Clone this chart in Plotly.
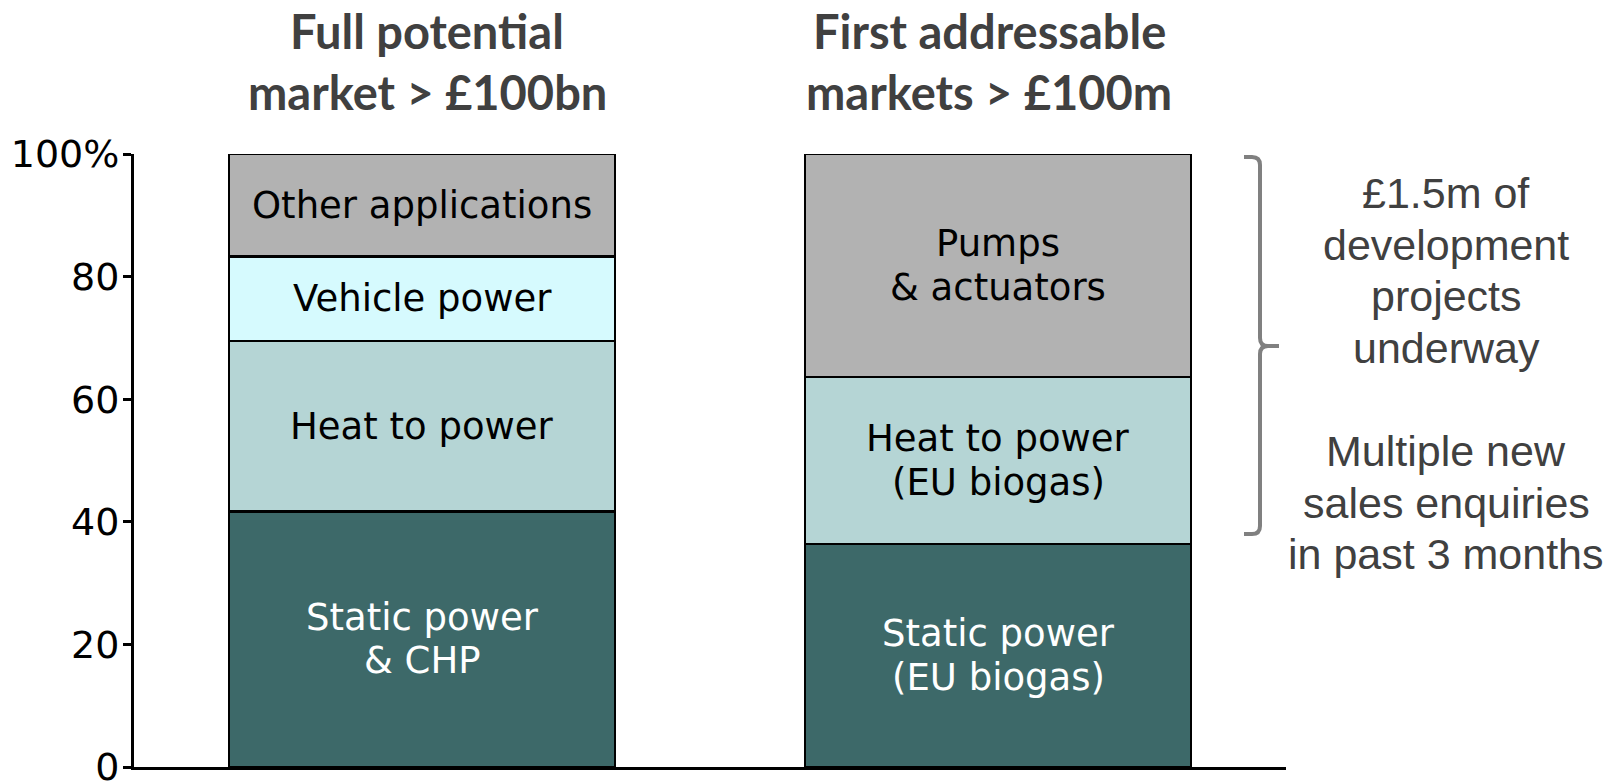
import plotly.graph_objects as go

# ---- data ----
categories = ["Full potential market", "First addressable markets"]
titles = ["Full potential<br>market > £100bn", "First addressable<br>markets > £100m"]

series_names = ["Static power", "Heat to power", "Vehicle power", "Other / Pumps"]
static_power = [41.7, 36.4]
heat_to_power = [27.8, 27.2]
vehicle_power = [13.8, 0.0]
other_apps = [16.7, 36.4]

static_labels = ["Static power<br>& CHP", "Static power<br>(EU biogas)"]
heat_labels = ["Heat to power", "Heat to power<br>(EU biogas)"]
vehicle_labels = ["Vehicle power", ""]
other_labels = ["Other applications", "Pumps<br>& actuators"]

tick_values = [0, 20, 40, 60, 80, 100]
tick_labels = ["0", "20", "40", "60", "80", "100%"]

side_lines = ["£1.5m of", "development", "projects", "underway", "",
              "Multiple new", "sales enquiries", "in past 3 months"]

# ---- styling ----
colors = ["#3D6969", "#B5D5D5", "#D6FAFE", "#B2B2B2"]
text_colors = ["white", "black", "black", "black"]
W, H = 1620, 784
ML, MR, MT, MB = 134, 334, 154, 17
PH = H - MT - MB
PW = W - ML - MR
BAR_LINE_GAP = 43.6

series = [static_power, heat_to_power, vehicle_power, other_apps]
labels = [static_labels, heat_labels, vehicle_labels, other_labels]

fig = go.Figure()
for name, vals, col in zip(series_names, series, colors):
    fig.add_trace(go.Bar(
        x=list(range(len(categories))), y=vals, name=name,
        marker=dict(color=col, line=dict(color="black", width=2.5)),
        width=0.67, hoverinfo="skip", showlegend=False,
    ))

annotations = []
# segment labels (one annotation per line for tighter line spacing)
for ci in range(len(categories)):
    base = 0.0
    for si, vals in enumerate(series):
        v = vals[ci]
        if v > 0 and labels[si][ci]:
            lines = labels[si][ci].split("<br>")
            n = len(lines)
            for li, line in enumerate(lines):
                off = (li - (n - 1) / 2) * BAR_LINE_GAP
                annotations.append(dict(
                    x=ci, y=base + v / 2, xref="x", yref="y", text=line,
                    showarrow=False, xanchor="center", yanchor="middle",
                    yshift=-off,
                    font=dict(family="DejaVu Sans, Verdana, sans-serif", size=37,
                              color=text_colors[si]),
                ))
        base += v

# column titles, one annotation per line
title_line_px = [31, 92]
title_shift = [5, -9]
for ci, t in enumerate(titles):
    for li, line in enumerate(t.split("<br>")):
        annotations.append(dict(
            x=ci, xref="x", y=(H - MB - title_line_px[li]) / PH, yref="paper",
            text=line, showarrow=False, xanchor="center", yanchor="middle",
            xshift=title_shift[ci], borderpad=0,
            font=dict(family="Lato, Open Sans, sans-serif", size=47, color="#404040",
                      weight="bold"),
        ))

# side text, one line at a time
for k, line in enumerate(side_lines):
    if not line:
        continue
    py = 193.2 + k * 51.6
    annotations.append(dict(
        x=(1446 - ML) / PW, xref="paper", y=(H - MB - py) / PH, yref="paper",
        text=line, showarrow=False, xanchor="center", yanchor="middle",
        font=dict(family="Liberation Sans, Arial, sans-serif", size=43, color="#404040"),
    ))

# bracket
def px(x):
    return (x - ML) / PW

def py_(y):
    return (H - MB - y) / PH

xv, xl, xr = px(1260), px(1244), px(1279)
yt, ym, yb = py_(157), py_(346), py_(534)
rx, ry = 8 / PW, 8 / PH
path = (
    f"M {xl},{yt} L {xv - rx},{yt} Q {xv},{yt} {xv},{yt - ry} "
    f"L {xv},{ym + ry} Q {xv},{ym} {xv + rx},{ym} L {xr},{ym} "
    f"M {xv + rx},{ym} Q {xv},{ym} {xv},{ym - ry} "
    f"L {xv},{yb + ry} Q {xv},{yb} {xv - rx},{yb} L {xl},{yb}"
)

fig.update_layout(
    width=W, height=H, barmode="stack",
    margin=dict(l=ML, r=MR, t=MT, b=MB, autoexpand=False),
    plot_bgcolor="white", paper_bgcolor="white",
    xaxis=dict(range=[-0.5, 1.5], showticklabels=False, ticks="", showgrid=False,
               zeroline=False, showline=True, linecolor="black", linewidth=3,
               automargin=False),
    yaxis=dict(range=[0, 100], tickvals=tick_values, ticktext=tick_labels,
               ticks="outside", ticklen=8, tickwidth=3, tickcolor="black",
               showgrid=False, zeroline=False, showline=True, linecolor="black",
               linewidth=3, ticklabeloverflow="allow", automargin=False,
               ticklabelstandoff=-4,
               tickfont=dict(family="DejaVu Sans, Verdana, sans-serif", size=38,
                             color="black")),
    annotations=annotations,
    shapes=[dict(type="path", path=path, xref="paper", yref="paper",
                 line=dict(color="#808080", width=4))],
)

fig.write_html(
    "out.html",
    config={"displayModeBar": False},
    post_script="document.body.style.margin='0';document.body.style.padding='0';",
)
